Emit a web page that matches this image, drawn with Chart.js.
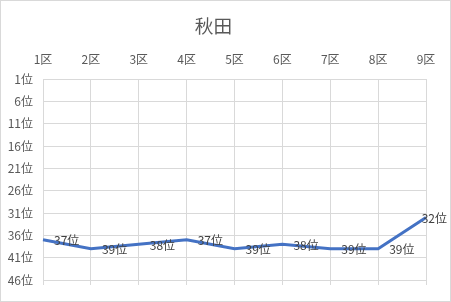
<!DOCTYPE html>
<html>
<head>
<meta charset="utf-8">
<script src="https://cdn.jsdelivr.net/npm/chart.js@4"></script>
<style>
  html, body { margin: 0; padding: 0; background: #fff; }
  .wrap {
    position: absolute; left: 0; top: 0;
    width: 451px; height: 302px;
    box-sizing: border-box;
    border: 1px solid #d9d9d9;
  }
  canvas { display: block; }
</style>
</head>
<body>
<div class="wrap"><canvas id="rankChart" width="449" height="300"></canvas></div>
<script>
// -------------------------------
// Data
// -------------------------------
const sections = ['1区', '2区', '3区', '4区', '5区', '6区', '7区', '8区', '9区'];
const ranks = [37, 39, 38, 37, 39, 38, 39, 39, 32];
const rankTicks = [1, 6, 11, 16, 21, 26, 31, 36, 41, 46];

const FONT = '"Noto Sans CJK JP", "Noto Sans", sans-serif';
const GRID = '#d9d9d9';

// -------------------------------
// Data labels (to the right of each point)
// -------------------------------
const rankLabels = {
  id: 'rankLabels',
  afterDatasetsDraw(chart) {
    const ctx = chart.ctx;
    const meta = chart.getDatasetMeta(0);
    ctx.save();
    ctx.font = '12px ' + FONT;
    ctx.fillStyle = '#404040';
    ctx.textAlign = 'left';
    ctx.textBaseline = 'middle';
    meta.data.forEach((pt, i) => {
      const text = ranks[i] + '位';
      const w = ctx.measureText(text).width;
      let x = pt.x + 11;
      if (x + w > chart.width - 3) x = chart.width - 3 - w;
      ctx.fillText(text, x, pt.y + 1);
    });
    ctx.restore();
  }
};

// -------------------------------
// Chart.js
// -------------------------------
new Chart(document.getElementById('rankChart'), {
  type: 'line',
  data: {
    labels: sections,
    datasets: [{
      data: ranks,
      borderColor: '#4472C4',
      borderWidth: 3,
      pointRadius: 0,
      tension: 0,
      fill: false
    }]
  },
  options: {
    responsive: false,
    animation: false,
    layout: { padding: { left: 0, right: 24, top: 0, bottom: 0 } },
    plugins: {
      legend: { display: false },
      tooltip: { enabled: false },
      title: {
        display: true,
        text: '秋田',
        color: '#595959',
        font: { family: FONT, size: 18.67, weight: 'normal' },
        padding: { top: 14, bottom: 0 }
      }
    },
    scales: {
      x: {
        position: 'top',
        offset: false,
        grid: { color: GRID, drawTicks: false },
        border: { display: false },
        ticks: { color: '#595959', font: { family: FONT, size: 12 }, padding: 12, maxRotation: 0 },
        afterFit: s => { s.height = 41.6; }
      },
      x2: {
        type: 'category',
        labels: sections,
        position: 'bottom',
        offset: false,
        grid: { color: GRID, drawOnChartArea: false, drawTicks: true, tickLength: 5 },
        border: { display: false },
        ticks: { display: false },
        afterFit: s => { s.height = 21; }
      },
      y: {
        reverse: true,
        min: 1,
        max: 46,
        afterBuildTicks: s => { s.ticks = rankTicks.map(v => ({ value: v })); },
        grid: { color: GRID, drawTicks: false },
        border: { display: false },
        ticks: {
          color: '#595959',
          font: { family: FONT, size: 12 },
          padding: 10,
          callback: v => v + '位'
        },
        afterFit: s => { s.width = 42; }
      }
    }
  },
  plugins: [rankLabels]
});
</script>
</body>
</html>
